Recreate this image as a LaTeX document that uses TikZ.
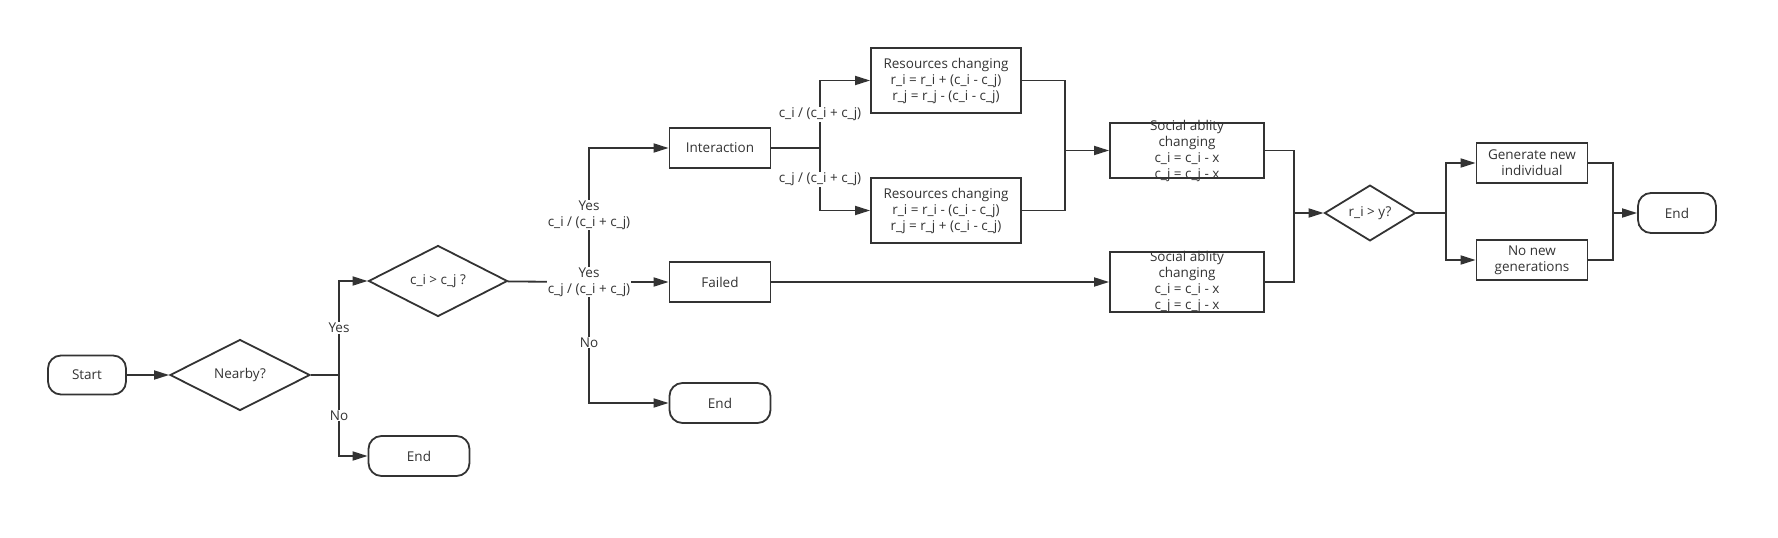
\documentclass[tikz,border=0pt]{standalone}
\usepackage{fontspec}
\setmainfont{Open Sans}
\usetikzlibrary{shapes.geometric,arrows.meta}
\definecolor{ink}{HTML}{333333}
\tikzset{
  every node/.style={font=\fontsize{13.5}{16}\selectfont, text=ink},
  term/.style={draw=ink, line width=1.8pt, rounded corners=13pt, minimum width=78pt, minimum height=39pt, inner sep=0pt},
  proc/.style={draw=ink, line width=1.8pt, minimum width=101pt, minimum height=40pt, inner sep=0pt, align=center},
  decision/.style={draw=ink, line width=1.8pt, diamond, minimum width=140pt, minimum height=71pt, inner sep=0pt},
  txt/.style={align=center, inner sep=0pt},
  lbl/.style={fill=white, inner sep=1pt, align=center},
  link/.style={draw=ink, line width=1.8pt},
  arr/.style={link, -{Triangle[length=15pt,width=9pt]}},
}
\begin{document}
\begin{tikzpicture}[x=1pt, y=-1pt]
\useasboundingbox (0,0) rectangle (1778,538);

\node (start) at (87,375) [term] {Start};
\node (nearby) at (240,375) [decision] {Nearby?};
\node (cmp) at (438,281) [decision, minimum width=139pt] {c\_i > c\_j ?};
\node (end1) at (419,456) [term, minimum width=101pt, minimum height=40pt] {End};
\node (inter) at (720,148) [proc] {Interaction};
\node (failed) at (720,282) [proc] {Failed};
\node (end2) at (720,403) [term, minimum width=101pt, minimum height=40pt] {End};
\node (res1) at (946,80.5) [proc, minimum width=150pt, minimum height=65pt] {Resources changing\\r\_i = r\_i + (c\_i - c\_j)\\r\_j = r\_j - (c\_i - c\_j)};
\node (res2) at (946,210.5) [proc, minimum width=150pt, minimum height=65pt] {Resources changing\\r\_i = r\_i - (c\_i - c\_j)\\r\_j = r\_j + (c\_i - c\_j)};
\node (soc1) at (1187,150.5) [proc, minimum width=154pt, minimum height=55pt] {};
\node (soc1t) at (soc1) [txt] {Social ablity\\changing\\c\_i = c\_i - x\\c\_j = c\_j - x};
\node (soc2) at (1187,282) [proc, minimum width=154pt, minimum height=60pt] {};
\node (soc2t) at (soc2) [txt] {Social ablity\\changing\\c\_i = c\_i - x\\c\_j = c\_j - x};
\node (ri) at (1370,213) [decision, minimum width=91pt, minimum height=54pt] {r\_i > y?};
\node (gen) at (1532,163) [proc, minimum width=111pt] {Generate new\\individual};
\node (nonew) at (1532,260) [proc, minimum width=111pt] {No new\\generations};
\node (end3) at (1677,213) [term, minimum height=40pt] {End};

% branch points
\coordinate (j1) at (339,375);
\coordinate (j2) at (589,282);
\coordinate (j3) at (820,148);
\coordinate (j4) at (1065,150.5);
\coordinate (j5) at (1294,213);
\coordinate (j6) at (1446,213);
\coordinate (j7) at (1613,213);

\draw [arr] (start) -- (nearby);
\draw [link] (nearby) -- (j1);
\draw [arr] (j1) |- (cmp) node[pos=0.25, lbl] {Yes};
\draw [arr] (j1) |- (end1) node[pos=0.25, lbl] {No};

\draw [link] (cmp) -- (j2);
\draw [arr] (j2) |- (inter) node[pos=0.25, lbl] {Yes\\c\_i / (c\_i + c\_j)};
\draw [arr] (j2) |- (end2) node[pos=0.25, lbl] {No};
\draw [arr] (j2) -- (failed);
\node (ylbl) at (j2) [lbl] {Yes\\c\_j / (c\_i + c\_j)};

\draw [link] (inter) -- (j3);
\draw [arr] (j3) |- (res1) node[pos=0.25, lbl] {c\_i / (c\_i + c\_j)};
\draw [arr] (j3) |- (res2) node[pos=0.25, lbl] {c\_j / (c\_i + c\_j)};

\draw [link] (res1) -| (j4);
\draw [link] (res2) -| (j4);
\draw [arr] (j4) -- (soc1);
\draw [arr] (failed) -- (soc2);

\draw [link] (soc1) -| (j5);
\draw [link] (soc2) -| (j5);
\draw [arr] (j5) -- (ri);

\draw [link] (ri) -- (j6);
\draw [arr] (j6) |- (gen);
\draw [arr] (j6) |- (nonew);
\draw [link] (gen) -| (j7);
\draw [link] (nonew) -| (j7);
\draw [arr] (j7) -- (end3);
\end{tikzpicture}
\end{document}
